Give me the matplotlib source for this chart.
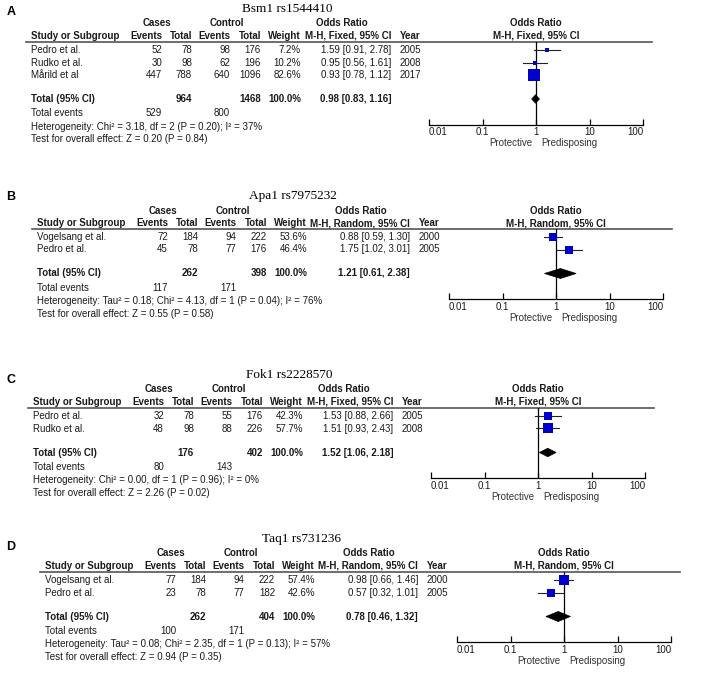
import matplotlib
matplotlib.use('Agg')
import matplotlib.pyplot as plt
from matplotlib.patches import Polygon
from matplotlib.ticker import NullLocator

W, H = 708, 673
plt.rcParams['font.family'] = ['Liberation Sans', 'DejaVu Sans']

# ---- data ----
bsm_studies = ['Pedro et al.', 'Rudko et al.', 'Mårild et al']
bsm_case_ev = [52, 30, 447]
bsm_case_n = [78, 98, 788]
bsm_ctrl_ev = [98, 62, 640]
bsm_ctrl_n = [176, 196, 1096]
bsm_weight = [7.2, 10.2, 82.6]
bsm_or = [1.59, 0.95, 0.93]
bsm_lo = [0.91, 0.56, 0.78]
bsm_hi = [2.78, 1.61, 1.12]
bsm_year = [2005, 2008, 2017]
bsm_total = [0.98, 0.83, 1.16]
bsm_het = 'Heterogeneity: Chi² = 3.18, df = 2 (P = 0.20); I² = 37%'
bsm_test = 'Test for overall effect: Z = 0.20 (P = 0.84)'

apa_studies = ['Vogelsang et al.', 'Pedro et al.']
apa_case_ev = [72, 45]
apa_case_n = [184, 78]
apa_ctrl_ev = [94, 77]
apa_ctrl_n = [222, 176]
apa_weight = [53.6, 46.4]
apa_or = [0.88, 1.75]
apa_lo = [0.59, 1.02]
apa_hi = [1.30, 3.01]
apa_year = [2000, 2005]
apa_total = [1.21, 0.61, 2.38]
apa_het = 'Heterogeneity: Tau² = 0.18; Chi² = 4.13, df = 1 (P = 0.04); I² = 76%'
apa_test = 'Test for overall effect: Z = 0.55 (P = 0.58)'

fok_studies = ['Pedro et al.', 'Rudko et al.']
fok_case_ev = [32, 48]
fok_case_n = [78, 98]
fok_ctrl_ev = [55, 88]
fok_ctrl_n = [176, 226]
fok_weight = [42.3, 57.7]
fok_or = [1.53, 1.51]
fok_lo = [0.88, 0.93]
fok_hi = [2.66, 2.43]
fok_year = [2005, 2008]
fok_total = [1.52, 1.06, 2.18]
fok_het = 'Heterogeneity: Chi² = 0.00, df = 1 (P = 0.96); I² = 0%'
fok_test = 'Test for overall effect: Z = 2.26 (P = 0.02)'

taq_studies = ['Vogelsang et al.', 'Pedro et al.']
taq_case_ev = [77, 23]
taq_case_n = [184, 78]
taq_ctrl_ev = [94, 77]
taq_ctrl_n = [222, 182]
taq_weight = [57.4, 42.6]
taq_or = [0.98, 0.57]
taq_lo = [0.66, 0.32]
taq_hi = [1.46, 1.01]
taq_year = [2000, 2005]
taq_total = [0.78, 0.46, 1.32]
taq_het = 'Heterogeneity: Tau² = 0.08; Chi² = 2.35, df = 1 (P = 0.13); I² = 57%'
taq_test = 'Test for overall effect: Z = 0.94 (P = 0.35)'

scale_ticks = [0.01, 0.1, 1, 10, 100]
scale_labels = ['0.01', '0.1', '1', '10', '100']

panels = [
    dict(label='A', title='Bsm1 rs1544410', method='M-H, Fixed, 95% CI',
         studies=bsm_studies, case_ev=bsm_case_ev, case_n=bsm_case_n,
         ctrl_ev=bsm_ctrl_ev, ctrl_n=bsm_ctrl_n, weight=bsm_weight,
         odds=bsm_or, lo=bsm_lo, hi=bsm_hi, year=bsm_year,
         total=bsm_total, het=bsm_het, test=bsm_test),
    dict(label='B', title='Apa1 rs7975232', method='M-H, Random, 95% CI',
         studies=apa_studies, case_ev=apa_case_ev, case_n=apa_case_n,
         ctrl_ev=apa_ctrl_ev, ctrl_n=apa_ctrl_n, weight=apa_weight,
         odds=apa_or, lo=apa_lo, hi=apa_hi, year=apa_year,
         total=apa_total, het=apa_het, test=apa_test),
    dict(label='C', title='Fok1 rs2228570', method='M-H, Fixed, 95% CI',
         studies=fok_studies, case_ev=fok_case_ev, case_n=fok_case_n,
         ctrl_ev=fok_ctrl_ev, ctrl_n=fok_ctrl_n, weight=fok_weight,
         odds=fok_or, lo=fok_lo, hi=fok_hi, year=fok_year,
         total=fok_total, het=fok_het, test=fok_test),
    dict(label='D', title='Taq1 rs731236', method='M-H, Random, 95% CI',
         studies=taq_studies, case_ev=taq_case_ev, case_n=taq_case_n,
         ctrl_ev=taq_ctrl_ev, ctrl_n=taq_ctrl_n, weight=taq_weight,
         odds=taq_or, lo=taq_lo, hi=taq_hi, year=taq_year,
         total=taq_total, het=taq_het, test=taq_test),
]

# layout (pixels): table left x, header-row y, panel letter y
layout = [(31, 36, 12), (37, 223, 197), (33, 402, 380), (45, 566, 547)]

fig = plt.figure(figsize=(W / 100, H / 100), dpi=100)
ax0 = fig.add_axes([0, 0, 1, 1])
ax0.set_xlim(0, W)
ax0.set_ylim(H, 0)
ax0.axis('off')

TXT = '#1a1a1a'
FS = 7


def txt(x, y, s, ha='left', bold=False, **kw):
    ax0.text(x, y, s, ha=ha, va='center', fontsize=kw.pop('fontsize', FS),
             fontweight='bold' if bold else 'normal', color=kw.pop('color', TXT), **kw)


for p, (x0, yh, ylab) in zip(panels, layout):
    rnd = 'Random' in p['method']
    ci_r = x0 + (373 if rnd else 360)
    fo = x0 + (519 if rnd else 505)
    dec = 53.5

    txt(11, ylab, p['label'], ha='center', bold=True, fontsize=9, color='black')
    txt(x0 + 256, yh - 27, p['title'], ha='center', fontsize=9.5,
        family='Liberation Serif', color='black')

    # header
    txt(x0 + 126, yh - 12.5, 'Cases', ha='center', bold=True)
    txt(x0 + 196, yh - 12.5, 'Control', ha='center', bold=True)
    txt(ci_r - 49, yh - 12.5, 'Odds Ratio', ha='center', bold=True)
    txt(fo, yh - 12.5, 'Odds Ratio', ha='center', bold=True)
    txt(x0, yh, 'Study or Subgroup', bold=True)
    for dx, s in [(131, 'Events'), (161, 'Total'), (199, 'Events'), (230, 'Total'), (270, 'Weight')]:
        txt(x0 + dx, yh, s, ha='right', bold=True)
    txt(ci_r, yh, p['method'], ha='right', bold=True)
    txt(ci_r + 9, yh, 'Year', bold=True)
    txt(fo, yh, p['method'], ha='center', bold=True)
    line_y = yh + 6
    ax0.plot([x0 - 5, x0 + (635 if rnd else 621)], [line_y, line_y], color='#555555', lw=1.2)

    # study rows
    n = len(p['studies'])
    rows_y = [yh + 14 + 12.5 * i for i in range(n)]
    for i, y in enumerate(rows_y):
        txt(x0, y, p['studies'][i])
        txt(x0 + 131, y, str(p['case_ev'][i]), ha='right')
        txt(x0 + 161, y, str(p['case_n'][i]), ha='right')
        txt(x0 + 199, y, str(p['ctrl_ev'][i]), ha='right')
        txt(x0 + 230, y, str(p['ctrl_n'][i]), ha='right')
        txt(x0 + 270, y, f"{p['weight'][i]:.1f}%", ha='right')
        txt(ci_r, y, f"{p['odds'][i]:.2f} [{p['lo'][i]:.2f}, {p['hi'][i]:.2f}]", ha='right')
        txt(ci_r + 9, y, str(p['year'][i]))

    # totals
    yt = rows_y[-1] + 24
    tor, tlo, thi = p['total']
    txt(x0, yt, 'Total (95% CI)', bold=True)
    txt(x0 + 161, yt, str(sum(p['case_n'])), ha='right', bold=True)
    txt(x0 + 230, yt, str(sum(p['ctrl_n'])), ha='right', bold=True)
    txt(x0 + 270, yt, f"{sum(p['weight']):.1f}%", ha='right', bold=True)
    txt(ci_r, yt, f"{tor:.2f} [{tlo:.2f}, {thi:.2f}]", ha='right', bold=True)
    ye = yt + 14.5
    txt(x0, ye, 'Total events')
    txt(x0 + 131, ye, str(sum(p['case_ev'])), ha='right')
    txt(x0 + 199, ye, str(sum(p['ctrl_ev'])), ha='right')
    yhet = ye + 13
    txt(x0, yhet, p['het'])
    txt(x0, yhet + 13, p['test'])

    # forest plot
    axis_y = yhet - 2
    left_px, right_px = fo - 2 * dec, fo + 2 * dec
    ax = fig.add_axes([left_px / W, (H - axis_y) / H, (right_px - left_px) / W, (axis_y - line_y) / H])
    ax.set_xscale('log')
    ax.set_xlim(scale_ticks[0], scale_ticks[-1])
    ax.set_ylim(axis_y, line_y)
    ax.patch.set_visible(False)
    for side in ['top', 'right', 'left']:
        ax.spines[side].set_visible(False)
    ax.spines['bottom'].set_linewidth(0.9)
    ax.set_yticks([])
    ax.set_xticks(scale_ticks)
    ax.set_xticklabels(scale_labels)
    ax.xaxis.set_minor_locator(NullLocator())
    ax.tick_params(axis='x', direction='in', length=4, width=0.9, labelsize=FS, pad=2,
                   labelcolor=TXT)
    tl = ax.get_xticklabels()
    tl[0].set_horizontalalignment('left')
    tl[-1].set_horizontalalignment('right')
    ax.axvline(1, color='black', lw=0.9)
    for i, y in enumerate(rows_y):
        ax.plot([p['lo'][i], p['hi'][i]], [y, y], color='#222222', lw=0.8)
        side_px = 0.125 * p['weight'][i] + 2.2
        ax.plot(p['odds'][i], y, 's', ms=side_px * 0.72, color='#0000c8', mew=0)
    dh = 10 if rnd else 8.5
    ax.add_patch(Polygon([(tlo, yt), (tor, yt - dh / 2), (thi, yt), (tor, yt + dh / 2)],
                         closed=True, fc='black', ec='black', lw=0.5))
    txt(fo - 4, axis_y + 19, 'Protective', ha='right', color='#333333')
    txt(fo + 5, axis_y + 19, 'Predisposing', color='#333333')

fig.savefig('out.png', dpi=100)
